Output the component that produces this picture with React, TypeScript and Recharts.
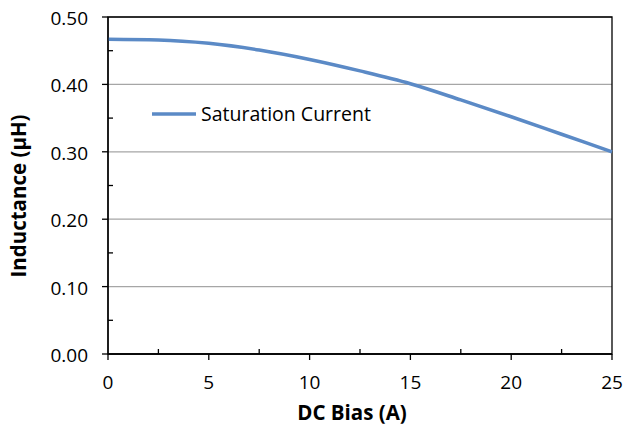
import { LineChart, Line, XAxis, YAxis, CartesianGrid, ReferenceArea } from 'recharts';

// DC bias (A) vs inductance (µH)
const biasAmps = [0, 2.5, 5, 7.5, 10, 12.5, 15, 17.5, 20, 22.5, 25];
const inductanceUh = [0.467, 0.466, 0.461, 0.451, 0.437, 0.42, 0.401, 0.377, 0.352, 0.326, 0.3];

const xMajorTicks = [0, 5, 10, 15, 20, 25];
const xMinorTicks = [2.5, 7.5, 12.5, 17.5, 22.5];
const yMajorTicks = [0, 0.1, 0.2, 0.3, 0.4, 0.5];
const yMinorTicks = [0.05, 0.15, 0.25, 0.35, 0.45];

const seriesName = 'Saturation Current';
const LINE_COLOR = '#5b8ac6';
const FONT = '"Open Sans", sans-serif';
const TICK_SIZE = 6;
const TICK_MARGIN = 8;
const MINOR = 5;

const data = biasAmps.map((a, i) => ({ bias: a, l: inductanceUh[i] }));
const isMinor = (v: number, list: number[]) => list.some((m) => Math.abs(m - v) < 1e-9);

// major ticks: label + outside tick; minor ticks: short inside tick only
function XTick({ x, y, payload }: any) {
  const ax = y - TICK_SIZE - TICK_MARGIN;
  if (isMinor(payload.value, xMinorTicks)) {
    return <line x1={x} x2={x} y1={ax} y2={ax - MINOR} stroke="#000" strokeWidth={1.3} />;
  }
  return (
    <g>
      <line x1={x} x2={x} y1={ax} y2={ax + TICK_SIZE} stroke="#000" strokeWidth={1.3} />
      <text x={x} y={y + 21} textAnchor="middle" fontSize={19} fontFamily={FONT} fill="#000">
        {payload.value}
      </text>
    </g>
  );
}

function YTick({ x, y, payload }: any) {
  const ax = x + TICK_SIZE + TICK_MARGIN;
  if (isMinor(payload.value, yMinorTicks)) {
    return <line x1={ax} x2={ax + MINOR} y1={y} y2={y} stroke="#000" strokeWidth={1.3} />;
  }
  return (
    <g>
      <line x1={ax - TICK_SIZE} x2={ax} y1={y} y2={y} stroke="#000" strokeWidth={1.3} />
      <text x={x - 6} y={y + 8} textAnchor="end" fontSize={19} fontFamily={FONT} fill="#000">
        {payload.value.toFixed(2)}
      </text>
    </g>
  );
}

export default function App() {
  return (
    <div style={{ position: 'absolute', left: 0, top: 0, width: 626, height: 425, background: '#fff' }}>
      <LineChart width={626} height={425} data={data} margin={{ top: 17, right: 14, left: 0, bottom: 0 }}>
        <CartesianGrid vertical={false} horizontalValues={yMajorTicks} stroke="#a6a6a6" strokeWidth={1.3} />
        <XAxis
          dataKey="bias"
          type="number"
          domain={[0, 25]}
          ticks={[...xMajorTicks, ...xMinorTicks].sort((a, b) => a - b)}
          interval={0}
          tick={<XTick />}
          tickSize={TICK_SIZE}
          tickMargin={TICK_MARGIN}
          tickLine={false}
          axisLine={{ stroke: '#000', strokeWidth: 1.3 }}
          height={71}
        />
        <YAxis
          type="number"
          domain={[0, 0.5]}
          ticks={[...yMajorTicks, ...yMinorTicks].sort((a, b) => a - b)}
          interval={0}
          tick={<YTick />}
          tickSize={TICK_SIZE}
          tickMargin={TICK_MARGIN}
          tickLine={false}
          axisLine={{ stroke: '#000', strokeWidth: 1.3 }}
          width={108}
        />
        <ReferenceArea x1={0} x2={25} y1={0} y2={0.5} fill="none" fillOpacity={0} stroke="#000" strokeWidth={1.3} />
        <Line
          type="monotone"
          dataKey="l"
          name={seriesName}
          stroke={LINE_COLOR}
          strokeWidth={3.5}
          dot={false}
          isAnimationActive={false}
        />
      </LineChart>
      <div
        style={{
          position: 'absolute',
          left: 18,
          top: 196,
          transform: 'translate(-50%, -50%) rotate(-90deg)',
          whiteSpace: 'nowrap',
          fontFamily: FONT,
          fontSize: 20.5,
          fontWeight: 700,
          color: '#000',
        }}
      >
        Inductance (µH)
      </div>
      <div
        style={{
          position: 'absolute',
          left: 352,
          top: 412,
          transform: 'translate(-50%, -50%)',
          whiteSpace: 'nowrap',
          fontFamily: FONT,
          fontSize: 20.5,
          fontWeight: 700,
          color: '#000',
        }}
      >
        DC Bias (A)
      </div>
      <div
        style={{
          position: 'absolute',
          left: 152,
          top: 100,
          display: 'flex',
          alignItems: 'center',
          fontFamily: FONT,
          fontSize: 19.5,
          color: '#000',
        }}
      >
        <svg width={44} height={6} style={{ marginRight: 5 }}>
          <line x1={0} y1={3} x2={44} y2={3} stroke={LINE_COLOR} strokeWidth={3.5} />
        </svg>
        <span>{seriesName}</span>
      </div>
    </div>
  );
}
